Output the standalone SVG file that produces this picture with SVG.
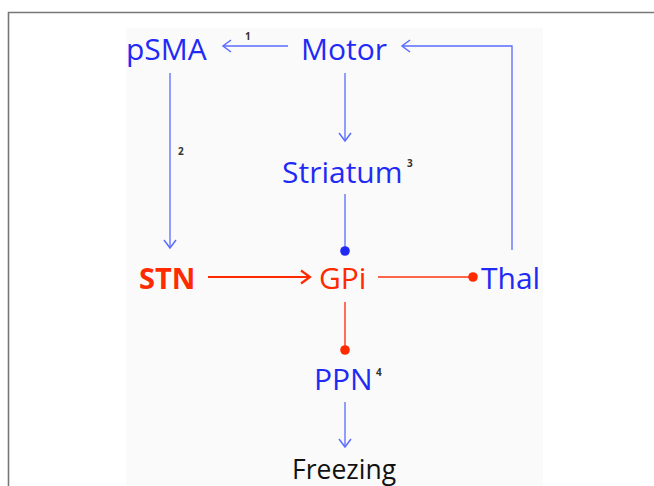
<svg xmlns="http://www.w3.org/2000/svg" width="654" height="486" viewBox="0 0 654 486">
<style>
.t{font-family:"Open Sans","Liberation Sans",sans-serif;font-size:30px}
.b{fill:#1f2bf5}
.r{fill:#ff2a00}
.k{fill:#111}
.s{font-family:"Open Sans","Liberation Sans",sans-serif;font-size:10px;font-weight:bold;fill:#333}
.lb{stroke:#5a6cff;stroke-width:1.3;fill:none}
.lr{stroke:#ff3311;stroke-width:1.4;fill:none}
</style>
<defs>
<marker id="ab" markerUnits="userSpaceOnUse" viewBox="-11 -8 13 16" refX="0" refY="0" markerWidth="13" markerHeight="16" orient="auto" overflow="visible">
<path d="M-8,-6 L0,0 L-8,6" fill="none" stroke="#5a6cff" stroke-width="1.5"/>
</marker>
<marker id="ar" markerUnits="userSpaceOnUse" viewBox="-11 -8 13 16" refX="0" refY="0" markerWidth="13" markerHeight="16" orient="auto" overflow="visible">
<path d="M-9,-6.5 L0,0 L-9,6.5" fill="none" stroke="#ff2a00" stroke-width="2.2"/>
</marker>
</defs>
<rect x="0" y="0" width="654" height="486" fill="#fff"/>
<rect x="126" y="28" width="417" height="458" fill="#fafafa"/>
<path d="M8.5,486 V12.5 H654" fill="none" stroke="#777" stroke-width="1.6"/>
<g id="connectors">
<line class="lb" x1="288" y1="46" x2="223" y2="46" marker-end="url(#ab)"/>
<text class="s" x="245" y="40">1</text>
<polyline class="lb" points="512,250 512,46 402,46" marker-end="url(#ab)"/>
<line class="lb" x1="170" y1="73" x2="170" y2="248" marker-end="url(#ab)"/>
<text class="s" x="178" y="155">2</text>
<line class="lb" x1="345" y1="73" x2="345" y2="141" marker-end="url(#ab)"/>
<line class="lb" x1="345" y1="194" x2="345" y2="251"/>
<circle cx="345" cy="251" r="4.8" fill="#1f2bf5"/>
<line x1="208" y1="277" x2="310" y2="277" stroke="#ff2a00" stroke-width="2.2" marker-end="url(#ar)"/>
<line class="lr" x1="378" y1="277" x2="473" y2="277"/>
<circle cx="473" cy="277" r="4.8" fill="#ff2a00"/>
<line class="lr" x1="345" y1="302" x2="345" y2="350"/>
<circle cx="345" cy="350" r="4.8" fill="#ff2a00"/>
<line class="lb" x1="345" y1="402" x2="345" y2="447" marker-end="url(#ab)"/>
</g>
<g id="pSMA"><text class="t b" x="126" y="60">pSMA</text></g>
<g id="Motor"><text class="t b" x="301" y="60">Motor</text></g>
<g id="Striatum"><text class="t b" x="282" y="183">Striatum</text><text class="s" x="407" y="167">3</text></g>
<g id="STN"><text class="t r" x="139" y="289" font-weight="bold" style="font-size:29px">STN</text></g>
<g id="GPi"><text class="t r" x="319" y="289">GPi</text></g>
<g id="Thal"><text class="t b" x="481" y="289">Thal</text></g>
<g id="PPN"><text class="t b" x="314" y="390">PPN</text><text class="s" x="376" y="376">4</text></g>
<g id="Freezing"><text class="t k" x="292" y="479" style="font-size:26.5px">Freezing</text></g>
</svg>
